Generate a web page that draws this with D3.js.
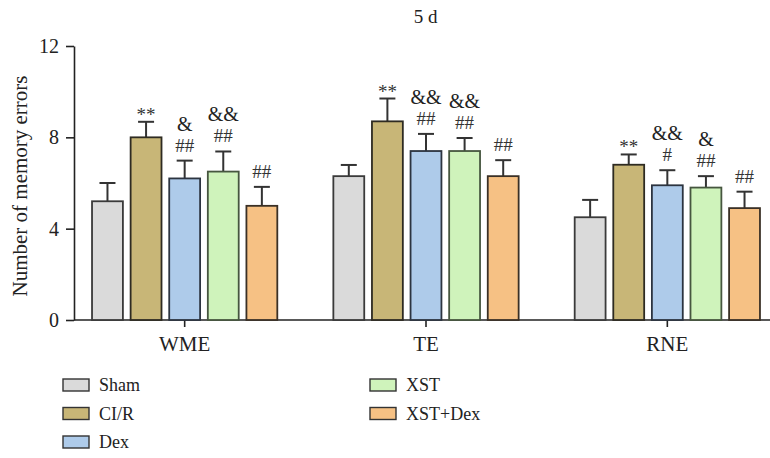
<!DOCTYPE html>
<html>
<head>
<meta charset="utf-8">
<script src="https://cdn.jsdelivr.net/npm/d3@7"></script>
<style>
  body { margin: 0; background: #fff; }
  svg { display: block; }
  svg text { font-family: "Liberation Serif", Tinos, "Times New Roman", "DejaVu Serif", serif; }
</style>
</head>
<body>
<svg id="chart" width="770" height="458"></svg>
<script>
// Memory errors after 5 days, grouped by measure
const measures = ["WME", "TE", "RNE"];
const groups = ["Sham", "CI/R", "Dex", "XST", "XST+Dex"];
const colors = ["#dadada", "#c8b677", "#aecbea", "#cff3bb", "#f6c184"];
const strokes = ["#3a3a3a", "#2e2b22", "#2c3440", "#46563f", "#3a3026"];

// mean values per measure, in group order
const meanWME = [5.2, 8.0, 6.2, 6.5, 5.0];
const meanTE  = [6.3, 8.7, 7.4, 7.4, 6.3];
const meanRNE = [4.5, 6.8, 5.9, 5.8, 4.9];
// error bar (SD) per measure
const errWME = [0.8, 0.68, 0.78, 0.88, 0.83];
const errTE  = [0.49, 1.0, 0.75, 0.57, 0.7];
const errRNE = [0.76, 0.45, 0.66, 0.5, 0.72];
// significance marks: [upper line, lower line]
const sigWME = [["", ""], ["", "**"], ["&", "##"], ["&&", "##"], ["", "##"]];
const sigTE  = [["", ""], ["", "**"], ["&&", "##"], ["&&", "##"], ["", "##"]];
const sigRNE = [["", ""], ["", "**"], ["&&", "#"], ["&", "##"], ["", "##"]];

const yTicks = [0, 4, 8, 12];

const means = [meanWME, meanTE, meanRNE];
const errs = [errWME, errTE, errRNE];
const sigs = [sigWME, sigTE, sigRNE];

const svg = d3.select("#chart");

const y = d3.scaleLinear().domain([0, 12]).range([320, 46]);
const x0 = d3.scaleBand().domain(measures).range([64, 788]).padding(0);
const x1 = d3.scaleBand().domain(groups).range([-96.5, 96.5]).paddingInner(0.2).paddingOuter(0.1);

// title
svg.append("text")
  .attr("x", 425.5).attr("y", 23)
  .attr("text-anchor", "middle")
  .attr("font-size", 19).attr("fill", "#222")
  .text("5 d");

// y axis
const yAxis = svg.append("g")
  .attr("transform", "translate(74,0)")
  .call(d3.axisLeft(y).tickValues(yTicks).tickSize(8).tickPadding(7).tickSizeOuter(0));
yAxis.attr("font-family", null);
yAxis.selectAll("text").attr("font-size", 20).attr("fill", "#222");
yAxis.selectAll("line,path").attr("stroke", "#222").attr("stroke-width", 1.6);

// x axis
const xAxis = svg.append("g")
  .attr("transform", "translate(0,320)")
  .call(d3.axisBottom(x0).tickSize(7).tickPadding(9).tickSizeOuter(0));
xAxis.attr("font-family", null);
xAxis.select(".domain").attr("d", "M74,0H770");
xAxis.selectAll("text").attr("font-size", 21).attr("fill", "#222");
xAxis.selectAll("line,path").attr("stroke", "#222").attr("stroke-width", 1.6);

// y label
svg.append("text")
  .attr("transform", "translate(27,186) rotate(-90)")
  .attr("text-anchor", "middle")
  .attr("font-size", 21).attr("fill", "#222")
  .text("Number of memory errors");

// bars, error bars, marks
measures.forEach((m, mi) => {
  const g = svg.append("g").attr("transform", `translate(${x0(m) + x0.bandwidth() / 2},0)`);
  groups.forEach((grp, gi) => {
    const v = means[mi][gi];
    const e = errs[mi][gi];
    const bx = x1(grp);
    const bw = x1.bandwidth();
    const cx = bx + bw / 2;
    // error bar (drawn behind the bar)
    g.append("line")
      .attr("x1", cx).attr("x2", cx)
      .attr("y1", y(v)).attr("y2", y(v + e))
      .attr("stroke", "#333").attr("stroke-width", 2);
    g.append("line")
      .attr("x1", cx - 8).attr("x2", cx + 8)
      .attr("y1", y(v + e)).attr("y2", y(v + e))
      .attr("stroke", "#333").attr("stroke-width", 2);
    g.append("rect")
      .attr("x", bx).attr("width", bw)
      .attr("y", y(v)).attr("height", y(0) - y(v))
      .attr("fill", colors[gi])
      .attr("stroke", strokes[gi]).attr("stroke-width", 1.8);
    const [upper, lower] = sigs[mi][gi];
    const top = y(v + e);
    if (lower) {
      const star = lower.startsWith("*");
      g.append("text")
        .attr("x", cx).attr("y", top - (star ? 1 : 9))
        .attr("text-anchor", "middle")
        .attr("font-size", star ? 19 : 19)
        .attr("fill", "#333")
        .text(lower);
    }
    if (upper) {
      g.append("text")
        .attr("x", cx).attr("y", top - 30)
        .attr("text-anchor", "middle")
        .attr("font-size", 20)
        .attr("fill", "#222")
        .text(upper);
    }
  });
});

// legend: two columns
const legendPos = [
  [63, 385], [63, 413.5], [63, 442],
  [370, 385], [370, 413.5]
];
groups.forEach((grp, gi) => {
  const [lx, ly] = legendPos[gi];
  svg.append("rect")
    .attr("x", lx).attr("y", ly - 6).attr("width", 26).attr("height", 12)
    .attr("fill", colors[gi]).attr("stroke", "#333").attr("stroke-width", 1.4);
  svg.append("text")
    .attr("x", lx + 36).attr("y", ly + 6)
    .attr("font-size", 18).attr("fill", "#222")
    .text(grp);
});
</script>
</body>
</html>
